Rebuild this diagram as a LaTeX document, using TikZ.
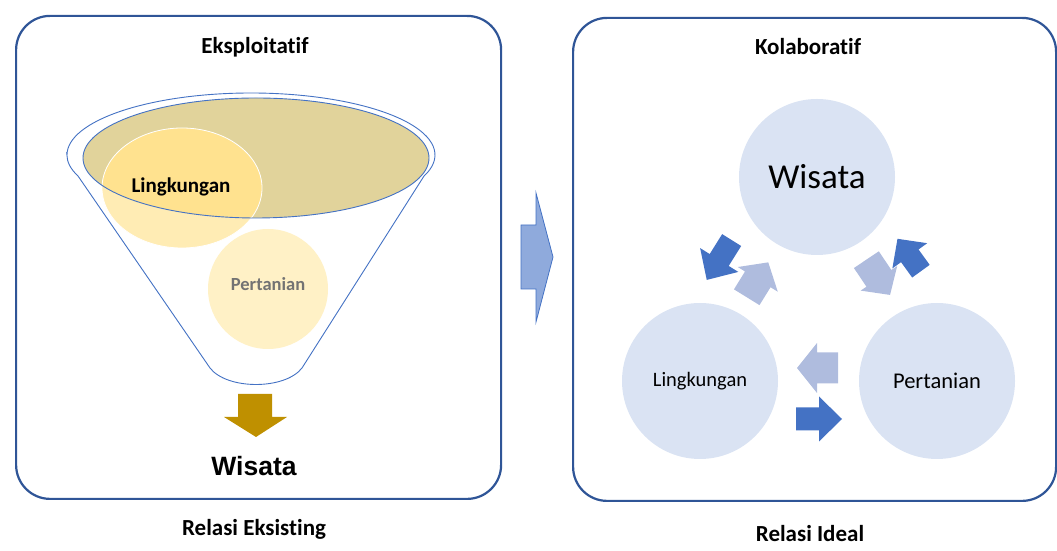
\documentclass[tikz,border=0pt]{standalone}
\usepackage{fontspec}
\setmainfont[Ligatures=NoCommon]{Carlito}
\newfontfamily\arialfont{Liberation Sans}
\usetikzlibrary{shapes.geometric}

\definecolor{frameblue}{RGB}{47,85,151}
\definecolor{lineblue}{RGB}{68,114,196}
\definecolor{rimtan}{RGB}{225,211,155}
\definecolor{paleyellow}{RGB}{255,236,180}
\definecolor{brightyellow}{RGB}{255,226,143}
\definecolor{creamyellow}{RGB}{255,241,198}
\definecolor{goldarrow}{RGB}{191,144,0}
\definecolor{midblue}{RGB}{143,170,220}
\definecolor{circleblue}{RGB}{218,227,243}
\definecolor{arrowdark}{RGB}{68,114,196}
\definecolor{arrowlight}{RGB}{175,188,222}
\definecolor{textgray}{RGB}{115,115,115}

% block arrow: style, centre x, centre y, angle, length, head length, body half width, head half width
\newcommand\blockarrow[8]{%
  \begin{scope}[shift={(#2,#3)},rotate=#4]
    \fill[#1] ({-#5/2},{-#7}) -- ({#5/2-#6},{-#7}) -- ({#5/2-#6},{-#8})
      -- ({#5/2},0) -- ({#5/2-#6},{#8}) -- ({#5/2-#6},{#7}) -- ({-#5/2},{#7}) -- cycle;
  \end{scope}}

\tikzset{
  frame/.style={draw=frameblue, line width=2.2pt, rounded corners=34pt,
    inner sep=0pt, anchor=south west},
  title/.style={font=\bfseries\fontsize{23}{26}\selectfont, anchor=base},
  bubble/.style={circle, fill=circleblue, minimum size=156pt, inner sep=0pt},
  funnelline/.style={draw=lineblue, line width=0.9pt},
}

\begin{document}
\begin{tikzpicture}[x=1pt,y=1pt]
\useasboundingbox (0,0) rectangle (1057,551);

% frames
\node[frame, minimum width=485pt, minimum height=483pt] (leftframe) at (15,51) {};
\node[frame, minimum width=483pt, minimum height=483pt] (rightframe) at (572,49) {};

% titles and captions
\node[title] (eksploitatif) at (255,497) {Eksploitatif};
\node[title] (eksisting) at (254,15) {Relasi Eksisting};
\node[title] (kolaboratif) at (808,496) {Kolaboratif};
\node[title] (ideal) at (810,9) {Relasi Ideal};

% funnel body
\draw[funnelline, fill=white]
  (67,396) arc[start angle=180, end angle=-20, x radius=184, y radius=62]
  -- (302,183) .. controls (285,161) and (227,161) .. (210,183)
  -- (78,375) arc[start angle=200, end angle=180, x radius=184, y radius=62] -- cycle;

% funnel mouth
\node[ellipse, fill=rimtan, minimum width=346pt, minimum height=120pt, inner sep=0pt] (rim) at (256,393) {};
\node[ellipse, fill=paleyellow, minimum width=160pt, minimum height=120pt, inner sep=0pt] (lingkOval) at (182,363) {};
\begin{scope}
  \clip (256,393) ellipse [x radius=173, y radius=60];
  \fill[brightyellow] (182,363) ellipse [x radius=80, y radius=60];
\end{scope}
\draw[white, line width=0.8pt] (182,363) ellipse [x radius=80, y radius=60];
\draw[funnelline] (256,393) ellipse [x radius=173, y radius=60];
\node[circle, fill=creamyellow, minimum size=120pt, inner sep=0pt] (pertCircle) at (268,262) {};

\node[font=\bfseries\fontsize{21}{24}\selectfont, anchor=base] (lingkText) at (181,358) {Lingkungan};
\node[font=\bfseries\fontsize{18.5}{22}\selectfont, text=textgray, anchor=base] (pertText) at (268,260) {Pertanian};

% outflow of the funnel
\fill[goldarrow] (238,157) -- (272,157) -- (272,134) -- (287,134) -- (256,114)
  -- (224,134) -- (238,134) -- cycle;
\node[font=\arialfont\bfseries\fontsize{26.5}{30}\selectfont, anchor=base] (wisataLeft) at (254,75) {Wisata};

% transition arrow between the two panels
\draw[fill=midblue, draw=lineblue, line width=0.8pt]
  (521,326) -- (536,326) -- (536,358) -- (553,294) -- (536,229) -- (536,262) -- (521,262) -- cycle;

% collaborative relation
\node[bubble, font=\fontsize{35}{40}\selectfont] (wisata) at (817,374) {Wisata};
\node[bubble, font=\fontsize{20.5}{24}\selectfont] (lingkungan) at (700,170) {Lingkungan};
\node[bubble, font=\fontsize{22.5}{26}\selectfont] (pertanian) at (937,170) {Pertanian};

% exchange arrows
\blockarrow{arrowlight}{757.5}{271.2}{58.3}{41}{20}{15}{23.5}
\blockarrow{arrowlight}{878.2}{273.7}{-56.1}{42.5}{20}{15}{22}
\blockarrow{arrowlight}{817.5}{183}{180}{41}{20}{15.5}{25}
\blockarrow{arrowdark}{719.2}{291}{238}{47}{23.5}{11.2}{22.5}
\blockarrow{arrowdark}{909.2}{296}{125.9}{40}{21}{10.8}{21.5}
\blockarrow{arrowdark}{819}{132}{0}{46}{23}{11.5}{22.5}
\end{tikzpicture}
\end{document}
